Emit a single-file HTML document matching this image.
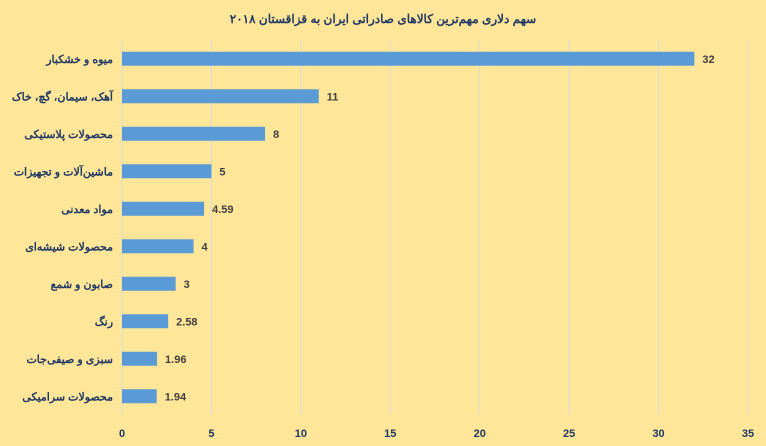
<!DOCTYPE html>
<html><head><meta charset="utf-8"><style>
body{margin:0;background:#FFE699;}
svg{display:block;font-family:"Liberation Sans","Noto Sans CJK SC",sans-serif;}
</style></head><body>
<svg width="766" height="446" viewBox="0 0 766 446" xmlns="http://www.w3.org/2000/svg">
<rect width="766" height="446" fill="#FFE699"/>
<text x="383" y="23" text-anchor="middle" font-size="12" font-weight="bold" fill="#1F3864">سهم دلاری مهم‌ترین کالاهای صادراتی ایران به قزاقستان ۲۰۱۸</text>
<g id="grid"></g><g id="bars"></g><g id="labels"></g>
</svg>
<script>
const categories=["میوه و خشکبار","آهک، سیمان، گچ، خاک","محصولات پلاستیکی","ماشین‌آلات و تجهیزات","مواد معدنی","محصولات شیشه‌ای","صابون و شمع","رنگ","سبزی و صیفی‌جات","محصولات سرامیکی"];
const values=[32,11,8,5,4.59,4,3,2.58,1.96,1.94];
const valueLabels=["32","11","8","5","4.59","4","3","2.58","1.96","1.94"];
const ticks=[0,5,10,15,20,25,30,35];
const NS="http://www.w3.org/2000/svg";
const x0=122,x1=748,xmax=35,plotTop=40,plotBottom=415;
const xs=v=>x0+(x1-x0)*v/xmax;
const band=(plotBottom-plotTop)/categories.length;
const yc=i=>plotTop+band*(i+0.5);
function mk(t,a,p){const e=document.createElementNS(NS,t);for(const k in a)e.setAttribute(k,a[k]);p.appendChild(e);return e;}
const grid=document.getElementById('grid'),bars=document.getElementById('bars'),labels=document.getElementById('labels');
ticks.forEach(t=>{
 const l=mk('line',{x1:xs(t),x2:xs(t),y1:plotTop,y2:plotBottom,stroke:'#D9D9D9','stroke-width':1},grid);
 
 
 const tx=mk('text',{x:xs(t),y:437,'text-anchor':'middle','font-size':11,'font-weight':'bold',fill:'#1F3864'},grid);
 tx.textContent=t;
 
 
});
categories.forEach((c,i)=>{
 const y=yc(i);
 const r=mk('rect',{x:x0,y:y-7,width:xs(values[i])-x0,height:14,fill:'#5B9BD5'},bars);
 
 
 const v=mk('text',{x:xs(values[i])+8,y:y+4,'font-size':11,'font-weight':'bold',fill:'#404040'},labels);
 v.textContent=valueLabels[i];
 
 
 const t=mk('text',{x:113,y:y+4,'text-anchor':'start','font-size':11,'font-weight':'bold',fill:'#1F3864',direction:'rtl'},labels);
 t.textContent=c;
 
 
});
</script>
</body></html>
